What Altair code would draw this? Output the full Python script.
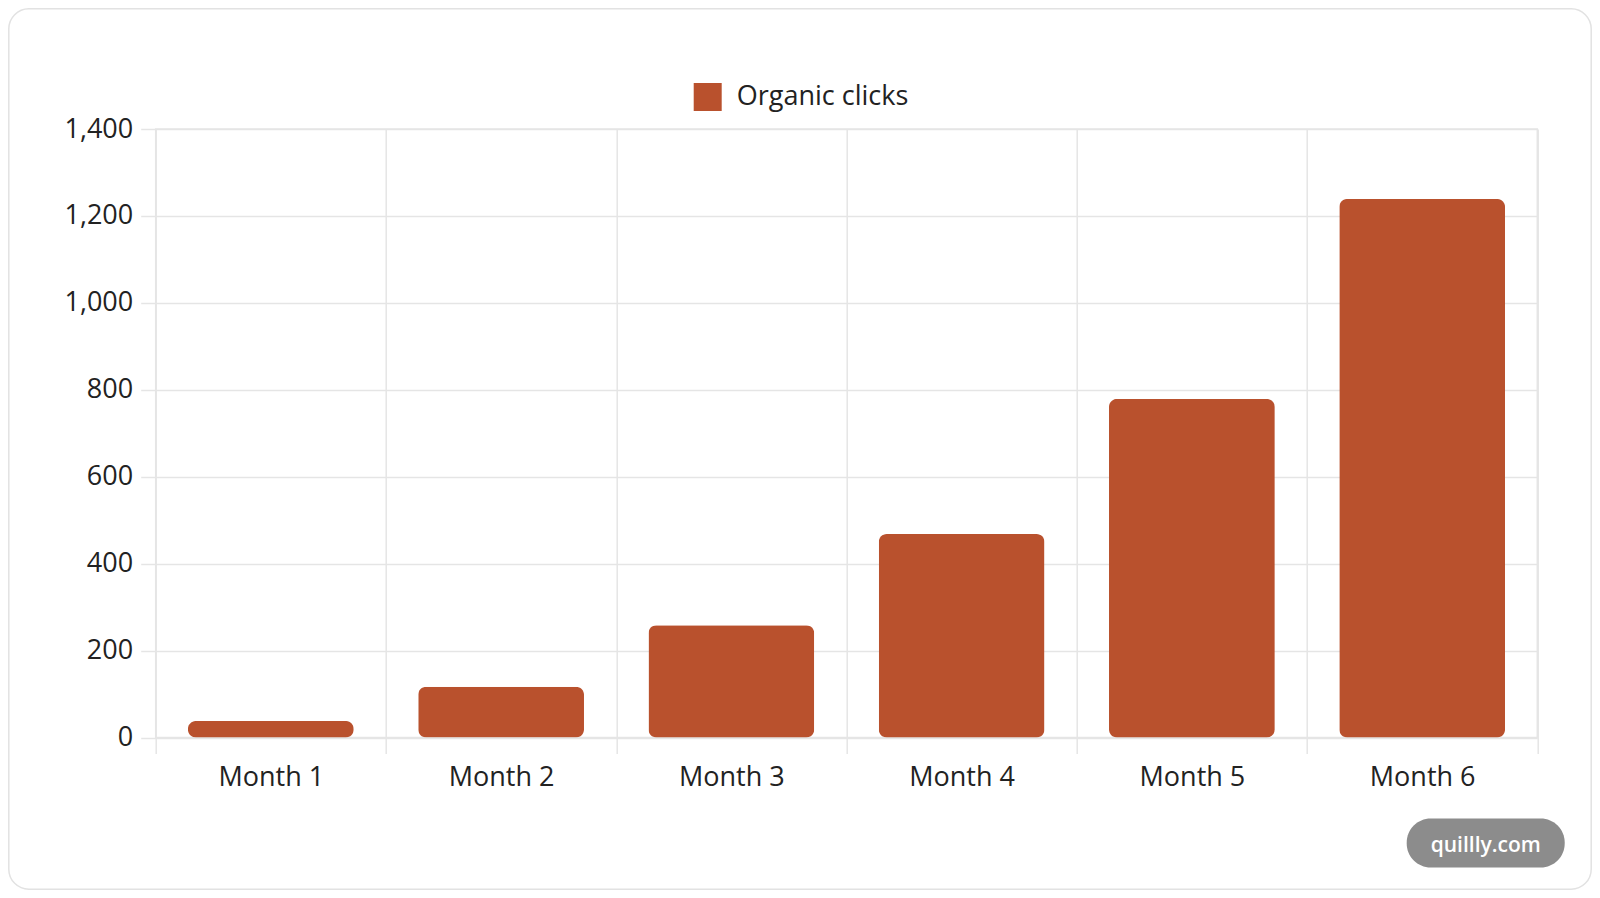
import altair as alt
import pandas as pd

# ---- data ----
months = ["Month 1", "Month 2", "Month 3", "Month 4", "Month 5", "Month 6"]
clicks = [38, 117, 258, 468, 779, 1239]
series_name = "Organic clicks"
y_ticks = [0, 200, 400, 600, 800, 1000, 1200, 1400]
watermark = ["quillly.com"]

df = pd.DataFrame({"month": months, "clicks": clicks, "series": [series_name] * len(months)})

FONT = "Open Sans"
TEXT = "#222222"
GRID = "#e5e5e5"
BAR = "#B9512D"
FS = 27

W, H = 1381.6, 608.5
PAD = {"left": 147.7, "top": 121, "right": 54.7, "bottom": 152.5}

bars = alt.Chart(df).mark_bar(
    width=alt.RelativeBandSize(0.72), cornerRadius=8
).encode(
    x=alt.X(
        "month:N",
        sort=months,
        scale=alt.Scale(paddingInner=0, paddingOuter=0),
        axis=alt.Axis(
            title=None, labelAngle=0, tickBand="extent", grid=True,
            gridColor=GRID, gridWidth=1.5, tickColor=GRID, tickWidth=1.5,
            tickSize=16, labelPadding=11, labelFontSize=FS, labelFont=FONT,
            labelColor=TEXT, domain=False,
        ),
    ),
    y=alt.Y(
        "clicks:Q",
        scale=alt.Scale(domain=[0, 1400], nice=False),
        axis=alt.Axis(
            title=None, values=y_ticks, format=",d", grid=True,
            gridColor=GRID, gridWidth=1.5, tickColor=GRID, tickWidth=1.5,
            tickSize=15, labelPadding=8, labelFontSize=FS, labelFont=FONT,
            labelColor=TEXT, domain=False,
        ),
    ),
    color=alt.Color(
        "series:N",
        scale=alt.Scale(range=[BAR]),
        legend=alt.Legend(
            title=None, orient="none", legendX=538, legendY=-46,
            symbolType="square", symbolSize=784, symbolStrokeWidth=0,
            labelFontSize=FS, labelFont=FONT, labelColor=TEXT,
            labelOffset=15, labelLimit=500, padding=0,
        ),
    ),
)

wm_df = pd.DataFrame({"t": watermark})
pill = alt.Chart(wm_df).mark_rect(color="#8c8c8c", cornerRadius=24).encode(
    x=alt.value(1251), x2=alt.value(1409), y=alt.value(689.5), y2=alt.value(738.5)
)
pill_text = alt.Chart(wm_df).mark_text(
    color="white", font=FONT, fontSize=21, fontWeight=600, align="center", baseline="middle"
).encode(text="t:N", x=alt.value(1330), y=alt.value(716.5))

card = alt.Chart(wm_df).mark_rect(
    fill="transparent", stroke="#e2e2e2", strokeWidth=1.5, cornerRadius=20
).encode(
    x=alt.value(-146.9), x2=alt.value(W + PAD["right"] - 0.8),
    y=alt.value(-120.2), y2=alt.value(H + PAD["bottom"] - 0.8),
)

chart = alt.layer(card, bars, pill, pill_text).properties(
    width=W, height=H, padding=PAD, autosize=alt.AutoSizeParams(type="none"),
    background="white",
).configure_view(stroke=GRID, strokeWidth=1.5)

chart.save("out.html", embed_options={"renderer": "svg", "actions": False})
